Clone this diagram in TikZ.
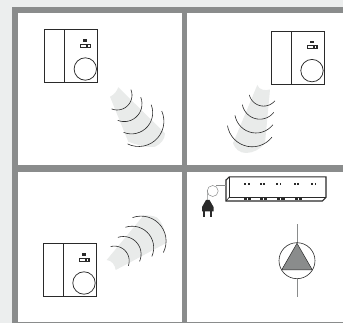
\documentclass[tikz,border=0pt]{standalone}
\definecolor{pagebg}{HTML}{ECEEEE}
\definecolor{barc}{HTML}{8A8C8C}
\definecolor{wedgec}{HTML}{E9EBEA}
\definecolor{inkc}{HTML}{2A2A2A}
\tikzset{
  bar/.style={fill=barc,draw=none},
  ink/.style={draw=inkc,line width=0.75pt},
  wavearc/.style={draw=inkc,line width=0.6pt},
  wedge/.style={fill=wedgec,draw=none},
  darkbit/.style={fill=inkc,draw=none},
}
\newcommand{\wallunit}[2]{%
  \begin{scope}[shift={(#1,#2)}]
    \draw[ink] (0,0) rectangle (53,52.7);
    \draw[ink] (20,0) -- (20,52.7);
    \draw[ink] (41,39.3) circle[radius=11.2];
    \fill[darkbit] (39,9.6) rectangle (43,12);
    \fill[darkbit] (35.7,14) rectangle (46.7,18);
    \fill[white] (37,15) rectangle (42,17);
    \fill[white] (43.6,15) rectangle (45.4,17);
  \end{scope}}
\newcommand{\wavearcs}[1]{\foreach \cx/\cy/\r/\a/\b in {#1}
  {\draw[wavearc] ({\cx+\r*cos(\a)},{\cy+\r*sin(\a)}) plot[smooth,domain=\a:\b,samples=16,variable=\t] ({\cx+\r*cos(\t)},{\cy+\r*sin(\t)});}}
\begin{document}
\begin{tikzpicture}[x=1pt,y=-1pt]
\useasboundingbox (0,0) rectangle (343,323);
\fill[pagebg] (0,0) rectangle (343,323);
\fill[white] (12,7) rectangle (343,323);
\fill[bar] (12,7) rectangle (343,13);
\fill[bar] (12,7) rectangle (18,323);
\fill[bar] (181.7,7) rectangle (187.3,323);
\fill[bar] (12,165) rectangle (343,171.7);
\fill[bar] (12,321.6) rectangle (343,323);
% wedges
\fill[wedge] (118.3,87.3) .. controls (117,91) and (114,95) .. (110,96.7)
  -- (128.3,141.7) .. controls (137,145) and (148,148) .. (155,146.7)
  .. controls (161,144) and (165,139) .. (165,133.3) -- cycle;
\fill[wedge] (257.3,85) .. controls (259,90) and (265,91) .. (270,89.5)
  -- (265,143) .. controls (261,149) and (253,153) .. (246,153)
  .. controls (240,153) and (235,149) .. (233,143.3) -- cycle;
\fill[wedge] (106.7,260) .. controls (112,260.5) and (115,265) .. (115.7,270)
  -- (165.7,243.3) .. controls (166,234) and (164,224) .. (157,217.5)
  .. controls (153,215.5) and (148,215) .. (143.3,215.7) -- cycle;
% waves
\wavearcs{117.2/95.2/14.8/-22/112,124.3/103.9/17.7/-22/112,131.5/112.7/21.2/-22/112,138.7/121.3/25.2/-24/116}
\wavearcs{263.6/91.4/14.7/40/166,259.8/101.5/17.7/38/170,256/111.7/21.3/38/170,252.2/121.8/25/38/171}
\wavearcs{114.5/260.8/14.7/-105/20,123.4/254.2/17.7/-108/24,132.2/247.7/21.5/-108/24,141.1/241.1/25/-110/27}
% wall units
\wallunit{44.3}{29.7}
\wallunit{271}{31.3}
\wallunit{43}{243.7}
% strip
\draw[ink,line width=1.1pt,line join=miter] (229.3,176.9) -- (326,176.9) -- (326,197.3) -- (322.3,201) -- (226,201) -- (226,180) -- cycle;
\draw[ink,line width=0.6pt] (229.3,176.9) -- (229.3,197.3) -- (326,197.3);
\draw[ink,line width=0.6pt] (229.3,197.3) -- (226,201);
\foreach \x in {247,262.3,278.7,296.3,313.7}{
  \fill[darkbit] (\x-2.6,183) rectangle (\x-0.8,184.8);
  \fill[darkbit] (\x+0.8,183) rectangle (\x+2.6,184.8);}
\foreach \x in {247.3,263.3,280.7,298.3}{
  \fill[darkbit] (\x-3.8,198.2) rectangle (\x-0.4,200.2);
  \fill[darkbit] (\x+0.4,198.2) rectangle (\x+3.8,200.2);}
% cable and plug
\draw[barc,line width=0.5pt] (226,185.7) -- (216,185.7);
\draw[barc,line width=0.5pt] (212.7,191) circle[radius=5.5];
\draw[barc,line width=0.5pt] (207.3,190) -- (207.7,200);
\fill[inkc] (206,200) -- (209.5,200) .. controls (210,203) and (213,204) .. (213.5,207)
  -- (213.5,211.5) -- (202,211.5) -- (202,207) .. controls (202.5,204) and (205.5,203) .. (206,200) -- cycle;
\fill[inkc] (203.4,211) rectangle (205.4,216.7);
\fill[inkc] (209.6,211) rectangle (211.6,216.7);
% pump
\draw[barc,line width=1pt] (297,224.3) -- (297,243.3);
\draw[barc,line width=1pt] (297,278.7) -- (297,296.7);
\draw[ink,line width=0.6pt] (297,260.7) circle[radius=18];
\draw[fill=barc,draw=inkc,line width=0.5pt,line join=round] (297,243.3) -- (312.4,270) -- (281.6,270) -- cycle;
\end{tikzpicture}
\end{document}
